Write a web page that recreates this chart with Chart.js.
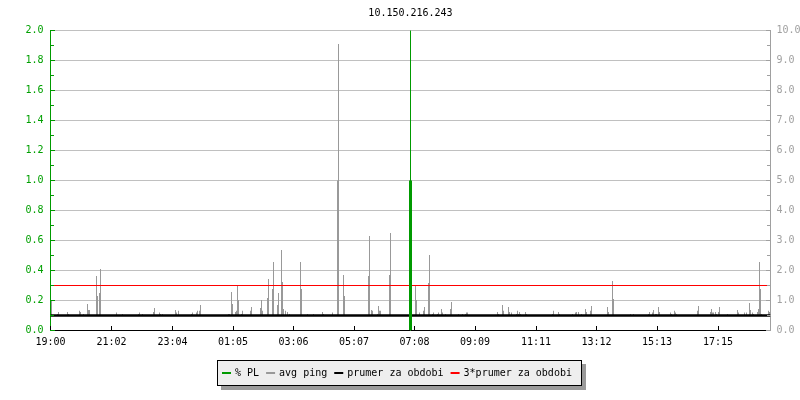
<!DOCTYPE html>
<html><head><meta charset="utf-8">
<script src="https://cdn.jsdelivr.net/npm/chart.js@4.4.1/dist/chart.umd.min.js"></script>
<style>html,body{margin:0;padding:0;background:#fff}#c{display:block}</style>
</head><body>
<canvas id="c" width="800" height="400"></canvas>
<script>
// ---------- data ----------
const chartTitle = '10.150.216.243';
const startClock = '19:00';
const periodMinutes = 1440;
const tickLabels = ['19:00','21:02','23:04','01:05','03:06','05:07','07:08','09:09','11:11','13:12','15:13','17:15'];
const seriesNames = ['% PL', 'avg ping', 'prumer za obdobi', '3*prumer za obdobi'];
// avg ping samples (minutes after 19:00) and values [ms], right axis
const pingMinutes = [2,14,16,34,36,58,60,66,74,76,78,92,94,98,100,132,144,176,178,184,206,208,218,220,224,250,252,256,282,284,292,294,298,300,
  356,358,362,364,370,372,374,376,382,384,400,402,420,422,424,434,436,444,446,454,456,462,464,466,470,474,478,500,502,514,526,544,546,564,
  574,576,586,588,636,638,642,644,654,656,658,660,678,680,730,732,738,746,748,756,758,764,766,774,776,782,784,790,800,802,816,824,830,832,834,
  894,896,904,906,916,918,922,932,934,936,938,940,950,952,1004,1006,1016,1018,1044,1050,1052,1056,1062,1070,1072,1080,1082,1114,1116,1124,1126,
  1160,1166,1196,1198,1204,1206,1210,1212,1216,1218,1240,1242,1248,1250,1252,1294,1296,1320,1322,1324,1326,1330,1332,1336,1338,1354,1374,1376,
  1388,1392,1398,1400,1404,1406,1414,1416,1418,1420,1422,1436,1438];
const pingValues = [1.0,0.55,0.62,0.62,0.55,0.66,0.62,0.55,0.88,0.68,0.68,1.82,1.15,1.25,2.05,0.6,0.55,0.55,0.6,0.55,0.62,0.75,0.6,0.55,0.55,0.68,0.6,0.66,0.55,0.6,0.6,0.66,0.66,0.85,
  0.55,0.55,1.28,0.88,0.62,0.66,1.52,1.02,0.55,0.66,0.66,0.78,0.75,1.02,0.66,1.08,1.72,1.38,2.28,0.85,1.25,2.68,1.62,0.72,0.66,0.62,0.55,2.28,1.38,0.55,0.55,0.62,0.55,0.6,
  5.0,9.55,1.85,1.15,1.82,3.15,0.68,0.66,0.55,0.82,0.66,0.66,1.85,3.25,1.52,1.02,0.6,0.66,0.78,1.58,2.52,0.55,0.6,0.55,0.6,0.72,0.6,0.55,0.72,0.95,0.55,0.55,0.55,0.6,0.6,
  0.62,0.55,0.85,0.66,0.78,0.62,0.6,0.55,0.66,0.55,0.62,0.55,0.62,0.55,0.55,0.66,0.62,0.55,0.55,0.6,0.62,0.62,0.55,0.72,0.62,0.66,0.82,0.78,0.62,1.65,1.05,
  0.55,0.55,0.55,0.62,0.6,0.68,0.55,0.55,0.78,0.62,0.6,0.55,0.66,0.6,0.55,0.66,0.82,0.62,0.72,0.6,0.6,0.62,0.55,0.62,0.78,0.55,0.68,0.6,
  0.6,0.6,0.92,0.68,0.6,0.55,0.62,0.72,2.28,1.38,0.55,0.66,0.62];
// packet loss samples, left axis
const plMinutes = [720];
const plValues = [1.0];
// period average of ping [ms]
const pingAverage = 0.5;

// ---------- styles ----------
const FONT = '"DejaVu Sans Mono", "Liberation Mono", monospace';
const colPL = '#009a00', colPLText = '#00a000', colPing = '#999999', colAvg = '#000000', colAvg3 = '#ff0000';
const colRight = '#a0a0a0', colGrid = '#c0c0c0';
const seriesColors = [colPL, colPing, colAvg, colAvg3];

function clockToMinutes(s) {
  const [h, m] = s.split(':').map(Number);
  const [h0, m0] = startClock.split(':').map(Number);
  return ((h * 60 + m) - (h0 * 60 + m0) + 1440) % 1440;
}

const inwardTicks = {
  id: 'inwardTicks',
  afterDatasetsDraw(chart) {
    const {ctx, chartArea: a, scales} = chart;
    ctx.save();
    ctx.lineWidth = 1;
    // markers for loss events
    ctx.strokeStyle = colPL;
    plMinutes.forEach(m => {
      const px = Math.floor(scales.x.getPixelForValue(m)) + 0.5;
      ctx.beginPath(); ctx.moveTo(px, a.top); ctx.lineTo(px, a.bottom); ctx.stroke();
    });
    const drawY = (scale, color, xEdge, dir) => {
      ctx.strokeStyle = color;
      const t = scale.ticks.map(k => k.value);
      const vals = [];
      t.forEach((v, i) => { vals.push([v, 5]); if (i < t.length - 1) vals.push([(v + t[i + 1]) / 2, 4]); });
      vals.forEach(([v, len]) => {
        const py = Math.floor(scale.getPixelForValue(v)) + 0.5;
        ctx.beginPath(); ctx.moveTo(xEdge, py); ctx.lineTo(xEdge + dir * len, py); ctx.stroke();
      });
    };
    drawY(scales.y, colPL, Math.floor(a.left), 1);
    drawY(scales.y1, colRight, Math.floor(a.right) + 1, -1);
    ctx.strokeStyle = '#000';
    scales.x.ticks.forEach(k => {
      const px = Math.floor(scales.x.getPixelForValue(k.value)) + 0.5;
      ctx.beginPath(); ctx.moveTo(px, Math.floor(a.bottom)); ctx.lineTo(px, Math.floor(a.bottom) - 4); ctx.stroke();
    });
    ctx.restore();
  }
};

const boxLegend = {
  id: 'boxLegend',
  afterDraw(chart) {
    const ctx = chart.ctx;
    ctx.save();
    ctx.font = '10px ' + FONT;
    const sw = 9, gap = 4, after = 7, padL = 5, padR = 9, top = 360.5, h = 25, center = 399;
    const widths = seriesNames.map(n => ctx.measureText(n).width);
    let total = padL + padR;
    widths.forEach((w, i) => { total += sw + gap + w + (i < widths.length - 1 ? after : 0); });
    const left = Math.round(center - total / 2) + 0.5;
    ctx.fillStyle = '#9a9a9a';
    ctx.fillRect(left + 3.5, top + 3.5, Math.round(total) + 1, h + 1);
    ctx.fillStyle = '#eeeeee';
    ctx.fillRect(left, top, Math.round(total), h);
    ctx.strokeStyle = '#000'; ctx.lineWidth = 1;
    ctx.strokeRect(left, top, Math.round(total), h);
    let x = Math.floor(left) + padL;
    const cy = top + h / 2;
    ctx.textBaseline = 'middle';
    seriesNames.forEach((n, i) => {
      ctx.fillStyle = seriesColors[i];
      ctx.fillRect(x, Math.round(cy) - 1, sw, 2);
      ctx.fillStyle = '#000';
      ctx.fillText(n, x + sw + gap, cy);
      x += sw + gap + widths[i] + after;
    });
    ctx.restore();
  }
};

Chart.defaults.font.family = FONT;
Chart.defaults.font.size = 10;
Chart.defaults.color = '#000';

new Chart(document.getElementById('c'), {
  type: 'bar',
  data: {
    datasets: [
      { label: seriesNames[0], type: 'bar', yAxisID: 'y', order: 0,
        data: plMinutes.map((m, i) => ({x: m, y: plValues[i]})),
        backgroundColor: colPL, borderWidth: 0, barThickness: 3, grouped: true, inflateAmount: 0 },
      { label: seriesNames[3], type: 'line', yAxisID: 'y1', order: 1,
        data: [{x: 0, y: 3 * pingAverage}, {x: periodMinutes, y: 3 * pingAverage}],
        borderColor: colAvg3, borderWidth: 1, pointRadius: 0, fill: false },
      { label: seriesNames[2], type: 'line', yAxisID: 'y1', order: 2,
        data: [{x: 0, y: pingAverage}, {x: periodMinutes, y: pingAverage}],
        borderColor: colAvg, borderWidth: 2.5, pointRadius: 0, fill: false },
      { label: seriesNames[1], type: 'bar', yAxisID: 'y1', order: 3,
        data: pingMinutes.map((m, i) => ({x: m, y: pingValues[i]})),
        base: pingAverage, backgroundColor: colPing, borderWidth: 0,
        grouped: false, maxBarThickness: 1, barPercentage: 1, categoryPercentage: 1, inflateAmount: 0 }
    ]
  },
  options: {
    responsive: false, animation: false,
    layout: { padding: { left: 0, right: 0, top: 0, bottom: 39.5 } },
    plugins: {
      legend: { display: false },
      tooltip: { enabled: false },
      title: { display: true, text: chartTitle, fullSize: false, color: '#000',
        font: { family: FONT, size: 10, weight: 'normal', lineHeight: 1.2 },
        padding: { top: 7, bottom: 11.5 } }
    },
    scales: {
      x: {
        type: 'linear', min: 0, max: periodMinutes, offset: false,
        afterBuildTicks: s => { s.ticks = tickLabels.map(l => ({value: clockToMinutes(l)})); },
        afterFit: s => { s.height = 30; },
        ticks: { autoSkip: false, maxRotation: 0, padding: 6, color: '#000',
          callback: (v, i) => tickLabels[i] },
        grid: { display: false, drawTicks: false },
        border: { display: true, color: '#000', width: 1 }
      },
      y: {
        position: 'left', min: 0, max: 2,
        afterFit: s => { s.width = 50.5; },
        ticks: { stepSize: 0.2, padding: 7, color: colPLText, callback: v => Number(v).toFixed(1) },
        grid: { drawTicks: false, color: c => (c.tick && c.tick.value === 0) ? 'rgba(0,0,0,0)' : colGrid, lineWidth: 1 },
        border: { display: true, color: colPL, width: 1 }
      },
      y1: {
        position: 'right', min: 0, max: 10,
        afterFit: s => { s.width = 29.5; },
        ticks: { stepSize: 1, padding: 6, color: colRight, callback: v => Number(v).toFixed(1) },
        grid: { display: false, drawTicks: false, drawOnChartArea: false },
        border: { display: true, color: colRight, width: 1 }
      }
    }
  },
  plugins: [inwardTicks, boxLegend]
});
</script>
</body></html>
